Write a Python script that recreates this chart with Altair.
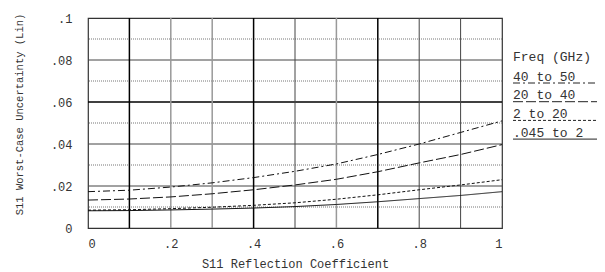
import altair as alt
import pandas as pd

# ---- data ----
x_vals = [0.0, 0.1, 0.2, 0.3, 0.4, 0.5, 0.6, 0.7, 0.8, 0.9, 1.0]
s40_50 = [0.0173, 0.0180, 0.0195, 0.0215, 0.0240, 0.0270, 0.0305, 0.0350, 0.0400, 0.0455, 0.0510]
s20_40 = [0.0133, 0.0138, 0.0148, 0.0163, 0.0182, 0.0205, 0.0232, 0.0268, 0.0310, 0.0350, 0.0397]
s2_20 = [0.0085, 0.0087, 0.0092, 0.0099, 0.0108, 0.0120, 0.0137, 0.0158, 0.0182, 0.0205, 0.0230]
s045_2 = [0.0082, 0.0083, 0.0086, 0.0090, 0.0095, 0.0102, 0.0112, 0.0125, 0.0140, 0.0155, 0.0173]
series_names = ["40 to 50", "20 to 40", "2 to 20", ".045 to 2"]
legend_title = "Freq (GHz)"
x_title = "S11 Reflection Coefficient"
y_title = "S11 Worst-Case Uncertainty (Lin)"
x_ticks = [0, 0.2, 0.4, 0.6, 0.8, 1.0]
y_ticks = [0, 0.02, 0.04, 0.06, 0.08, 0.1]
v_grid_black = [0.1, 0.4, 0.7]
v_grid_gray = [0.2, 0.3, 0.6]
v_grid_dark = [0.5, 0.8, 0.9]
h_grid_solid = [0.02, 0.04, 0.08]
h_grid_black = [0.06]
h_grid_dotted = [0.01, 0.03, 0.05, 0.07, 0.09]

rows = []
for name, vals in zip(series_names, [s40_50, s20_40, s2_20, s045_2]):
    for xv, yv in zip(x_vals, vals):
        rows.append({"x": xv, "y": yv, "series": name})
df = pd.DataFrame(rows)

FONT = "Liberation Mono"
TXT = "#333333"
dashes = {
    "40 to 50": [7, 3, 2, 3],
    "20 to 40": [10, 3],
    "2 to 20": [3, 2],
    ".045 to 2": [1, 0],
}

xscale = alt.Scale(domain=[0, 1], nice=False, zero=False)
yscale = alt.Scale(domain=[0, 0.1], nice=False, zero=False)

x_axis = alt.Axis(values=x_ticks, grid=False, ticks=False, domain=False,
                  labelExpr="replace(datum.label, '0.', '.')",
                  format="~g", labelBaseline="middle", labelPadding=15,
                  labelFont=FONT, labelFontSize=12, labelColor=TXT,
                  title=x_title, titleFont=FONT, titleFontSize=12,
                  titleFontWeight="normal", titleColor=TXT,
                  titleBaseline="middle", titleY=35)
y_axis = alt.Axis(values=y_ticks, grid=False, ticks=False, domain=False,
                  labelExpr="replace(datum.label, '0.', '.')",
                  format="~g", labelPadding=16,
                  labelFont=FONT, labelFontSize=12, labelColor=TXT,
                  title=y_title, titleFont=FONT, titleFontSize=10.5,
                  titleFontWeight="normal", titleColor=TXT,
                  titleAngle=270, titleBaseline="middle",
                  titleAlign="center", titleX=-69, titleY=96)

def vrules(vals, color, width, dash=None):
    kw = dict(color=color, strokeWidth=width)
    if dash:
        kw["strokeDash"] = dash
    return alt.Chart(pd.DataFrame({"x": vals})).mark_rule(**kw).encode(
        x=alt.X("x:Q", scale=xscale, axis=x_axis))

def hrules(vals, color, width, dash=None):
    kw = dict(color=color, strokeWidth=width)
    if dash:
        kw["strokeDash"] = dash
    return alt.Chart(pd.DataFrame({"y": vals})).mark_rule(**kw).encode(
        y=alt.Y("y:Q", scale=yscale, axis=y_axis))

grid = [
    hrules(h_grid_dotted, "#777777", 1, [1, 1]),
    hrules(h_grid_solid, "#444444", 1),
    hrules(h_grid_black, "#000000", 1.5),
    vrules(v_grid_gray, "#999999", 1.5),
    vrules(v_grid_dark, "#444444", 1),
    vrules(v_grid_black, "#000000", 1.5),
]

lines = alt.Chart(df).mark_line(color="#111111", strokeWidth=1).encode(
    x=alt.X("x:Q", scale=xscale, axis=x_axis),
    y=alt.Y("y:Q", scale=yscale, axis=y_axis),
    strokeDash=alt.StrokeDash("series:N",
                              scale=alt.Scale(domain=series_names,
                                              range=[dashes[s] for s in series_names]),
                              legend=None),
    detail="series:N",
)

legend_layers = [
    alt.Chart(pd.DataFrame({"t": [legend_title]})).mark_text(
        align="left", baseline="middle", font=FONT, fontSize=13, color=TXT
    ).encode(text="t:N", x=alt.value(425), y=alt.value(39))
]
for i, name in enumerate(series_names):
    legend_layers.append(
        alt.Chart(pd.DataFrame({"t": [name]})).mark_text(
            align="left", baseline="middle", font=FONT, fontSize=13, color=TXT
        ).encode(text="t:N", x=alt.value(425), y=alt.value(58.7 + 18.7 * i))
    )
    legend_layers.append(
        alt.Chart(pd.DataFrame({"t": [name]})).mark_rule(
            color="#222222", strokeWidth=1, strokeDash=dashes[name]
        ).encode(x=alt.value(425), x2=alt.value(520), y=alt.value(65 + 18.7 * i))
    )

chart = alt.layer(*grid, lines, *legend_layers).properties(
    width=414, height=210,
    autosize=alt.AutoSizeParams(type="none"),
    padding={"left": 80, "top": 10, "right": 95, "bottom": 44},
    background="white",
).configure_view(stroke="#333333", strokeWidth=1.2)

chart.save("out.html", embed_options={"renderer": "svg", "actions": False})
